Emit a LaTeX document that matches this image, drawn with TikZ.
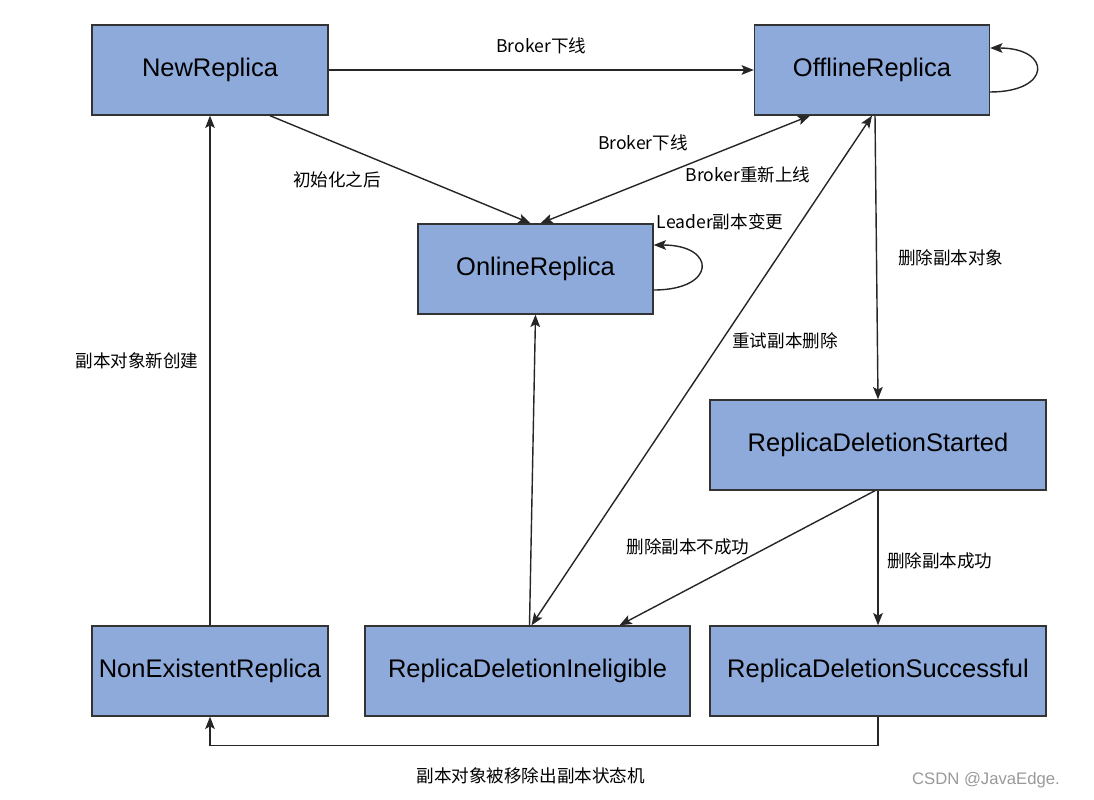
\documentclass[tikz,border=0pt]{standalone}
\usepackage{fontspec}
\setmainfont{Liberation Sans}
\newfontfamily\cjk{Noto Sans CJK SC}
\usepackage{tikz}
\usetikzlibrary{arrows.meta, calc}
\usepackage{xcolor}
\definecolor{estadoazul}{RGB}{142,170,219}

\begin{document}
\begin{tikzpicture}[
    x=0.02cm,
    y=-0.02cm,
    every node/.style={font=\cjk\fontsize{10}{12}\selectfont},
    estado/.style={
        draw=black!80,
        line width=0.8pt,
        fill=estadoazul,
        minimum height=1.8cm,
        font=\fontsize{14.5}{16}\selectfont
    },
    seta/.style={
        draw=black!85,
        line width=0.8pt,
        -{Stealth[length=7pt,width=5.5pt,inset=1.5pt]}
    },
    setadupla/.style={
        seta,
        {Stealth[length=7pt,width=5.5pt,inset=1.5pt]}-{Stealth[length=7pt,width=5.5pt,inset=1.5pt]}
    }
]

\useasboundingbox (0,0) rectangle (1094,800);

% ============================================================
% ESTADOS
% ============================================================

\node[estado, minimum width=4.72cm] (new) at (210,70) {NewReplica};
\node[estado, minimum width=4.7cm] (offline) at (872,70) {OfflineReplica};
\node[estado, minimum width=4.7cm] (online) at (535.5,269) {OnlineReplica};
\node[estado, minimum width=6.72cm] (started) at (878,445) {ReplicaDeletionStarted};
\node[estado, minimum width=4.72cm] (nonexist) at (210,671) {NonExistentReplica};
\node[estado, minimum width=6.5cm] (inelig) at (527.5,671) {ReplicaDeletionIneligible};
\node[estado, minimum width=6.72cm] (success) at (878,671) {ReplicaDeletionSuccessful};

% ============================================================
% TRANSICOES
% ============================================================

% NewReplica -> OfflineReplica
\draw[seta] (new.east) --
node[above=0.2cm] {Broker下线}
(offline.west);

% NewReplica -> OnlineReplica
\draw[seta] ($(new.south)+(60,0)$) -- ($(online.north)+(-5,0)$);
\node (linit) at (337,180) {初始化之后};

% OfflineReplica <-> OnlineReplica
\draw[setadupla] ($(offline.south)+(-62,0)$) -- ($(online.north)+(5,0)$);
\node (ldown) at (643,143) {Broker下线};
\node (lup) at (748,175) {Broker重新上线};

% laços
\draw[seta] ($(offline.east)+(0,22)$)
to[out=0, in=0, looseness=3.6]
($(offline.east)+(0,-22)$);

\draw[seta] ($(online.east)+(0,21)$)
to[out=0, in=0, looseness=3.6]
($(online.east)+(0,-24)$);
\node (lleader) at (720,222) {Leader副本变更};

% OfflineReplica -> ReplicaDeletionStarted
\draw[seta] ($(offline.south)+(3,0)$) --
node[right=0.3cm] {删除副本对象}
(started.north);

% ReplicaDeletionIneligible <-> OfflineReplica
\draw[setadupla] ($(inelig.north)+(4,0)$) -- (offline.south);
\node (lretry) at (785,341) {重试副本删除};

% ReplicaDeletionIneligible -> OnlineReplica
\draw[seta] ($(inelig.north)+(2,0)$) -- (online.south);

% ReplicaDeletionStarted -> ReplicaDeletionIneligible
\draw[seta] ($(started.south)+(-3,0)$) -- ($(inelig.north)+(92,0)$);
\node (lfail) at (688,547) {删除副本不成功};

% ReplicaDeletionStarted -> ReplicaDeletionSuccessful
\draw[seta] (started.south) --
node[right=0.05cm, pos=0.52] {删除副本成功}
(success.north);

% ReplicaDeletionSuccessful -> NonExistentReplica
\draw[seta] (success.south) -- ++(0,29) -|
node[pos=0.26, below=0.3cm] {副本对象被移除出副本状态机}
(nonexist.south);

% NonExistentReplica -> NewReplica
\draw[seta] (nonexist.north) --
node[left=0.1cm, pos=0.52] {副本对象新创建}
(new.south);

% marca
\node[text=black!40, font=\fontsize{9.5}{11}\selectfont] (marca) at (986,780) {CSDN @JavaEdge.};

\end{tikzpicture}
\end{document}
